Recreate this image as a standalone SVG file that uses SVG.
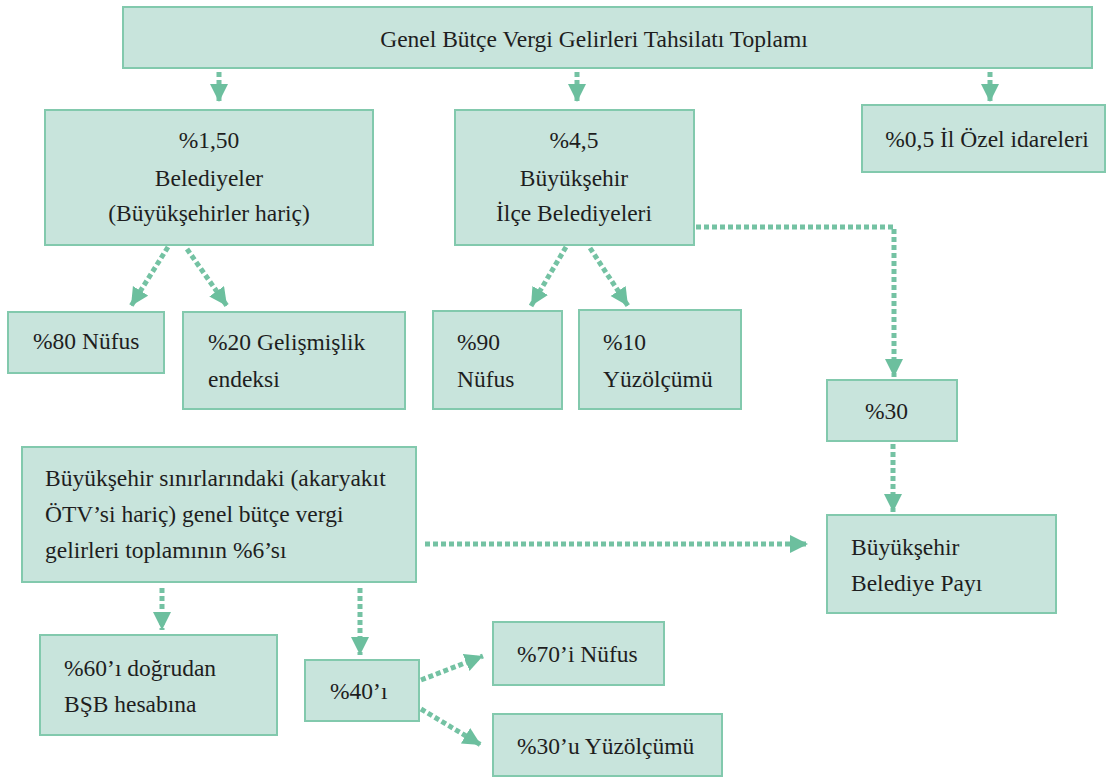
<svg xmlns="http://www.w3.org/2000/svg" width="1113" height="778" viewBox="0 0 1113 778">
<style>
.box{fill:#c8e4dc;stroke:#82c9ad;stroke-width:2}
.t{font-family:"Liberation Serif","Times New Roman",serif;font-size:23.5px;fill:#1e1e1e}
.c{text-anchor:middle}
.ln{fill:none;stroke:#74c2a3;stroke-width:5;stroke-dasharray:5 3}
</style>
<defs>
<marker id="ah" markerUnits="userSpaceOnUse" markerWidth="20" markerHeight="20" refX="18" refY="9" orient="auto">
<path d="M0,0 L18,9 L0,18 Z" fill="#6cbf9e"/>
</marker>
</defs>
<g id="connectors">
<path class="ln" d="M219,72 V102" marker-end="url(#ah)"/>
<path class="ln" d="M577,72 V102" marker-end="url(#ah)"/>
<path class="ln" d="M990,72 V102" marker-end="url(#ah)"/>
<path class="ln" d="M168,247 L131,306" marker-end="url(#ah)"/>
<path class="ln" d="M187,249 L227,306" marker-end="url(#ah)"/>
<path class="ln" d="M566,247 L531,306" marker-end="url(#ah)"/>
<path class="ln" d="M590,248 L628,306" marker-end="url(#ah)"/>
<path class="ln" d="M696,227 H894 V377" marker-end="url(#ah)"/>
<path class="ln" d="M893,444 V512" marker-end="url(#ah)"/>
<path class="ln" d="M425,544 H808" marker-end="url(#ah)"/>
<path class="ln" d="M162,588 V630" marker-end="url(#ah)"/>
<path class="ln" d="M360,588 V655" marker-end="url(#ah)"/>
<path class="ln" d="M421,680 L483,656" marker-end="url(#ah)"/>
<path class="ln" d="M421,709 L481,745" marker-end="url(#ah)"/>
</g>
<g class="t">
<g id="n-top"><rect class="box" x="123" y="7" width="969" height="61"/><text class="c" x="594" y="47">Genel Bütçe Vergi Gelirleri Tahsilatı Toplamı</text></g>
<g id="n-bel"><rect class="box" x="45" y="110" width="328" height="135"/><text class="c" x="209" y="148">%1,50</text><text class="c" x="209" y="186">Belediyeler</text><text class="c" x="209" y="221">(Büyükşehirler hariç)</text></g>
<g id="n-bsilce"><rect class="box" x="455" y="110" width="239" height="135"/><text class="c" x="574" y="148">%4,5</text><text class="c" x="574" y="186">Büyükşehir</text><text class="c" x="574" y="221">İlçe Belediyeleri</text></g>
<g id="n-il"><rect class="box" x="862" y="105" width="243" height="67"/><text class="c" x="987" y="147">%0,5 İl Özel idareleri</text></g>
<g id="n-80"><rect class="box" x="8" y="312" width="156" height="61"/><text x="33" y="349">%80 Nüfus</text></g>
<g id="n-20"><rect class="box" x="183" y="312" width="222" height="97"/><text x="208" y="350">%20 Gelişmişlik</text><text x="208" y="387">endeksi</text></g>
<g id="n-90"><rect class="box" x="433" y="311" width="129" height="98"/><text x="457" y="350">%90</text><text x="457" y="387">Nüfus</text></g>
<g id="n-10"><rect class="box" x="579" y="310" width="162" height="99"/><text x="603" y="350">%10</text><text x="603" y="387">Yüzölçümü</text></g>
<g id="n-30"><rect class="box" x="827" y="380" width="130" height="61"/><text x="865" y="419">%30</text></g>
<g id="n-bssinir"><rect class="box" x="22" y="447" width="394" height="135"/><text x="45" y="486">Büyükşehir sınırlarındaki (akaryakıt</text><text x="45" y="522">ÖTV’si hariç) genel bütçe vergi</text><text x="45" y="558">gelirleri toplamının %6’sı</text></g>
<g id="n-pay"><rect class="box" x="827" y="515" width="229" height="98"/><text x="851" y="555">Büyükşehir</text><text x="851" y="591">Belediye Payı</text></g>
<g id="n-60"><rect class="box" x="40" y="635" width="237" height="100"/><text x="64" y="676">%60’ı doğrudan</text><text x="64" y="712">BŞB hesabına</text></g>
<g id="n-40"><rect class="box" x="305" y="660" width="114" height="61"/><text x="330" y="699">%40’ı</text></g>
<g id="n-70"><rect class="box" x="493" y="622" width="171" height="63"/><text x="517" y="662">%70’i Nüfus</text></g>
<g id="n-30u"><rect class="box" x="493" y="714" width="229" height="62"/><text x="517" y="754">%30’u Yüzölçümü</text></g>
</g>
</svg>
